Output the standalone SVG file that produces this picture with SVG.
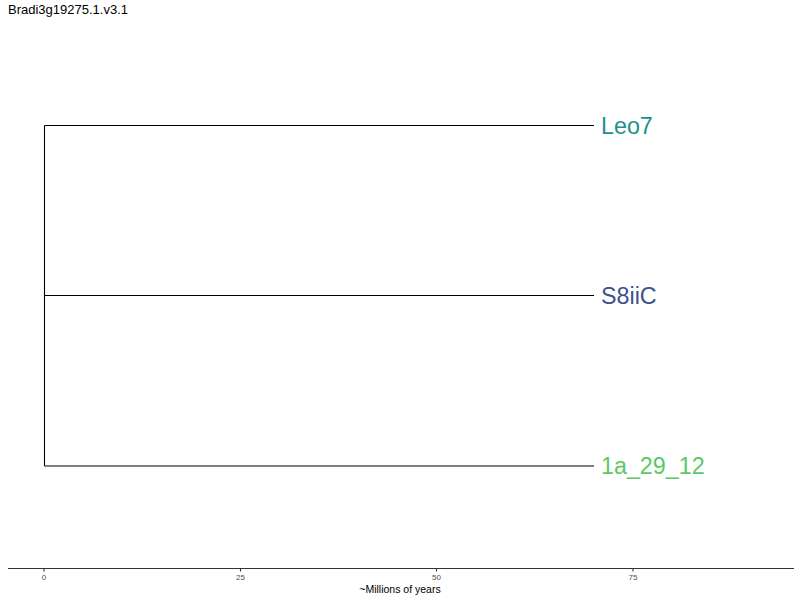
<svg xmlns="http://www.w3.org/2000/svg" width="800" height="600" viewBox="0 0 800 600">
<style>
text{font-family:"Liberation Sans",Arial,sans-serif}
.br{stroke:#000;stroke-width:1.1;fill:none}
.tip{font-size:23.3px}
.tick{font-size:8px;fill:#4d4d4d;text-anchor:middle}
.ax{stroke:#333;stroke-width:1.1}
</style>
<rect width="800" height="600" fill="#fff"/>
<text x="8" y="14" font-size="13" fill="#000">Bradi3g19275.1.v3.1</text>
<g id="connectors">
<line class="br" x1="44.5" y1="125.5" x2="44.5" y2="466"/>
<line class="br" x1="44.5" y1="125.5" x2="594" y2="125.5"/>
<line class="br" x1="44.5" y1="295.5" x2="594" y2="295.5"/>
<line class="br" x1="44.5" y1="466" x2="594" y2="466"/>
</g>
<g id="Leo7"><text class="tip" x="601" y="133.5" fill="#21908C">Leo7</text></g>
<g id="S8iiC"><text class="tip" x="601" y="303.5" fill="#3B528B">S8iiC</text></g>
<g id="n1a_29_12"><text class="tip" x="601" y="474" fill="#5DC863">1a_29_12</text></g>
<g id="axis">
<line class="ax" x1="8" y1="568.5" x2="794" y2="568.5"/>
<line class="ax" x1="44" y1="568.5" x2="44" y2="571.5"/>
<line class="ax" x1="240.5" y1="568.5" x2="240.5" y2="571.5"/>
<line class="ax" x1="436.5" y1="568.5" x2="436.5" y2="571.5"/>
<line class="ax" x1="633" y1="568.5" x2="633" y2="571.5"/>
<text class="tick" x="44" y="580">0</text>
<text class="tick" x="240.5" y="580">25</text>
<text class="tick" x="436.5" y="580">50</text>
<text class="tick" x="633" y="580">75</text>
<text x="400" y="593" font-size="10.5" text-anchor="middle" fill="#000">~Millions of years</text>
</g>
</svg>
